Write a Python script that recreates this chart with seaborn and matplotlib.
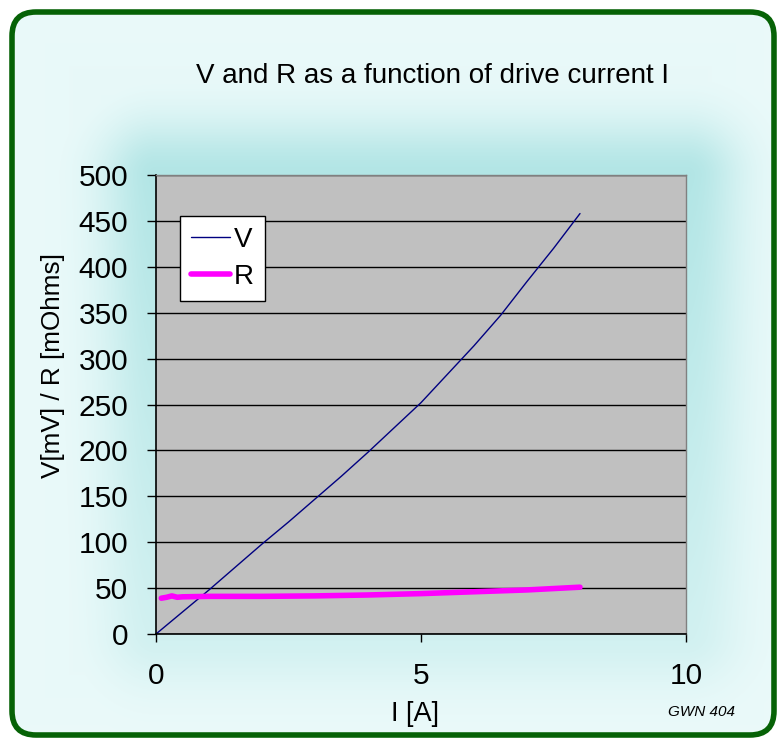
import numpy as np
import pandas as pd
import matplotlib.pyplot as plt
import seaborn as sns
from matplotlib.patches import FancyBboxPatch

# data
current_v = [0, 0.5, 1, 1.5, 2, 2.5, 3, 3.5, 4, 4.5, 5, 5.5, 6, 6.5, 7, 7.5, 8]
voltage = [0, 24, 48, 73, 98, 122, 147, 172, 198, 225, 252, 283, 314, 347, 384, 420, 458]

current_r = [0.1, 0.2, 0.3, 0.4, 0.5, 1, 2, 3, 4, 5, 6, 7, 8]
resistance = [39, 40, 41.5, 40, 40.5, 41, 41, 41.5, 42.5, 44, 46, 48, 51]

df_v = pd.DataFrame({'I': current_v, 'val': voltage})
df_r = pd.DataFrame({'I': current_r, 'val': resistance})

sns.set_theme(style="white")
plt.rcParams['font.family'] = ['Liberation Sans', 'DejaVu Sans']
plt.rcParams['text.color'] = 'black'
plt.rcParams['axes.labelcolor'] = 'black'
plt.rcParams['xtick.color'] = 'black'
plt.rcParams['ytick.color'] = 'black'

fig = plt.figure(figsize=(7.77, 7.38), dpi=100)
W, H = 777, 738

# background panel: rounded green frame, soft cyan glow round the plot area
bg = fig.add_axes([0, 0, 1, 1], zorder=0)
bg.set_axis_off()
yy, xx = np.mgrid[0:H, 0:W].astype(float)
dx = np.maximum(np.maximum(156 - xx, xx - 686), 0)
dy = np.maximum(np.maximum(175 - yy, yy - 634), 0)
dist = np.hypot(dx, dy)
w = np.interp(yy, [0, 175, 634, 738], [1.0, 1.0, 0.45, 0.35])
t = np.exp(-(dist / 55) ** 2) * w
# faint overall tint that gets lighter towards the frame
edge = np.maximum(np.abs(xx - 390) / 390, np.abs(yy - 370) / 370)
t = np.maximum(t, 0.25 * (1 - edge))
c_dark = np.array([0.70, 0.90, 0.90])
c_light = np.array([0.92, 0.98, 0.98])
img = c_light[None, None, :] * (1 - t[..., None]) + c_dark[None, None, :] * t[..., None]
im = bg.imshow(img, extent=[0, W, H, 0], aspect='auto')
bg.set_xlim(0, W)
bg.set_ylim(H, 0)
box = dict(boxstyle="round,pad=0,rounding_size=24", transform=bg.transData)
clip = FancyBboxPatch((12, 12), 762, 723, facecolor='none', edgecolor='none', **box)
bg.add_patch(clip)
im.set_clip_path(clip)
bg.add_patch(FancyBboxPatch((12, 12), 762, 723, facecolor='none',
                            edgecolor='#066206', linewidth=4, **box))

ax = fig.add_axes([156 / W, 1 - 634 / H, 530 / W, 459 / H], zorder=1)
ax.set_facecolor('#C0C0C0')

sns.lineplot(data=df_v, x='I', y='val', color='#000080', linewidth=1, ax=ax, label='V')
sns.lineplot(data=df_r, x='I', y='val', color='#FF00FF', linewidth=4, ax=ax, label='R',
             solid_capstyle='round')

ax.set_xlim(0, 10)
ax.set_ylim(0, 500)
ax.set_xticks([0, 5, 10])
ax.set_yticks(range(0, 501, 50))
ax.yaxis.grid(True, color='black', linewidth=1)
ax.xaxis.grid(False)
ax.set_axisbelow(True)
ax.tick_params(axis='both', direction='out', width=1, color='black',
               labelsize=21.5, left=True, bottom=True)
ax.tick_params(axis='x', length=6, pad=14.5)
ax.tick_params(axis='y', length=6.5, pad=13.5)
for s in ['left', 'bottom']:
    ax.spines[s].set_color('black')
    ax.spines[s].set_linewidth(1.2)
for s in ['top', 'right']:
    ax.spines[s].set_color('#808080')
    ax.spines[s].set_linewidth(1)

ax.set_xlabel('I [A]', fontsize=19.5, va='top')
ax.xaxis.set_label_coords(0.489, -0.146)
ax.set_ylabel('V[mV] / R [mOhms]', fontsize=18.8)
ax.yaxis.set_label_coords(-0.172, 0.584)

leg = ax.legend(loc='upper left', bbox_to_anchor=(0.045, 0.911), fontsize=20,
                frameon=True, fancybox=False, framealpha=1, edgecolor='black',
                handlelength=1.4, handletextpad=0.15, borderpad=0.4, labelspacing=0.4,
                borderaxespad=0)
leg.get_frame().set_linewidth(1)

fig.text(432 / W, 1 - 76 / H, 'V and R as a function of drive current I', fontsize=20,
         ha='center', va='center')
fig.text(701 / W, 1 - 712 / H, 'GWN 404', fontsize=11, style='italic', ha='center', va='center')

fig.savefig('out.png', dpi=100)
